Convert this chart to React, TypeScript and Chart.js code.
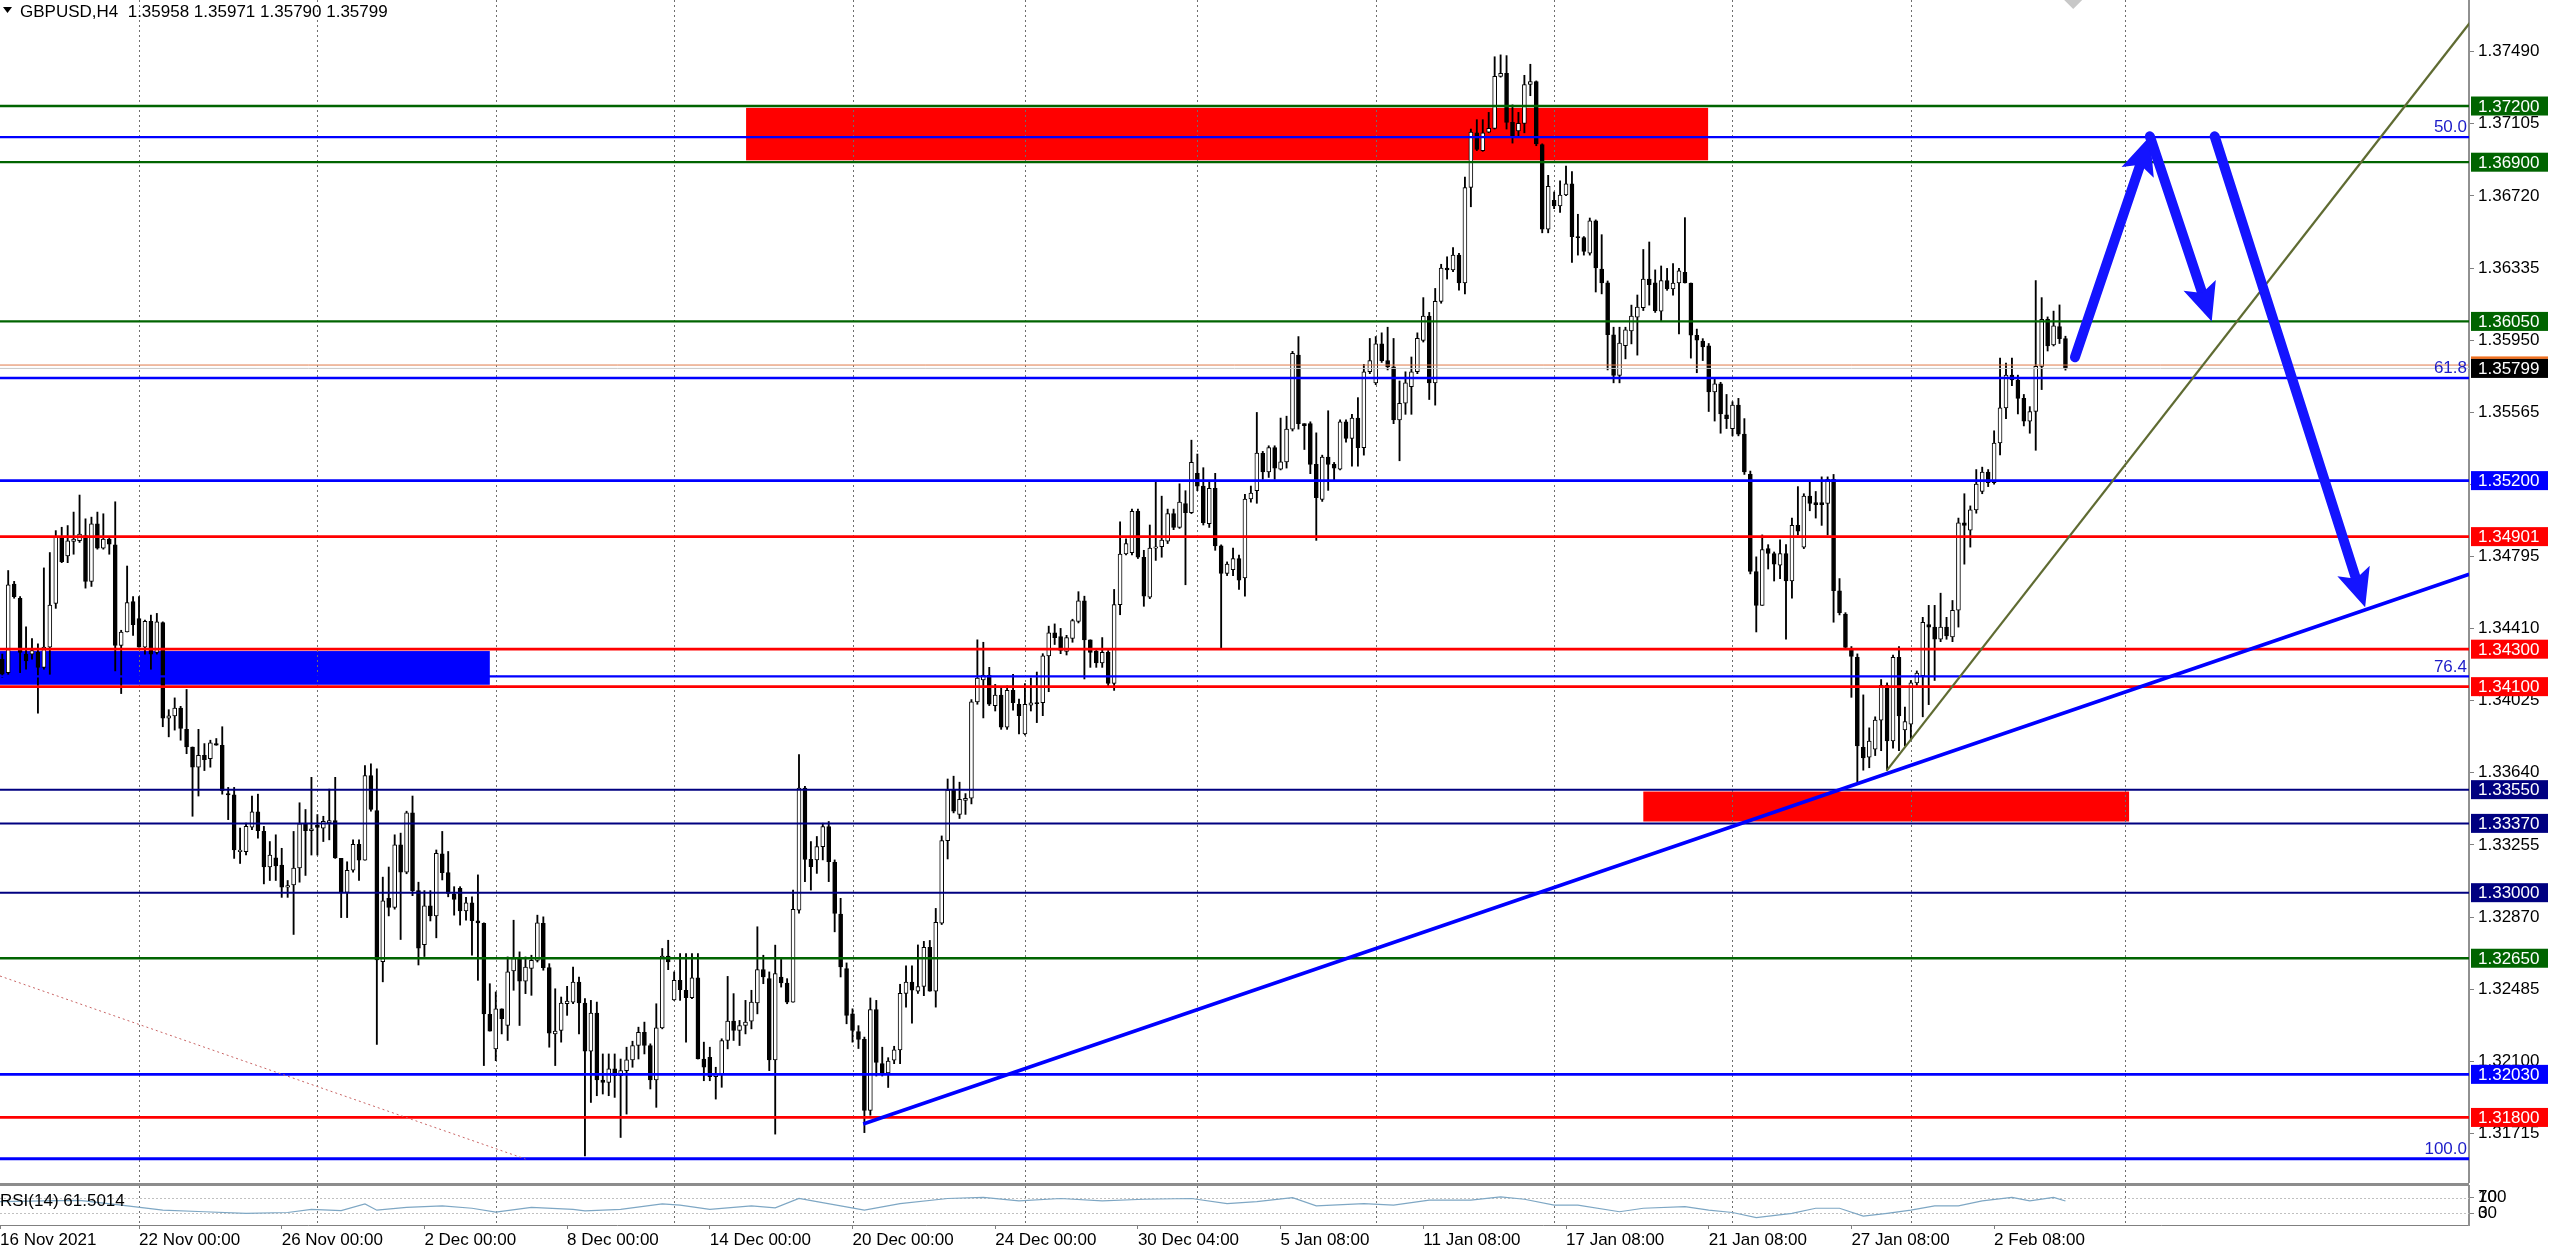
import React, { useEffect, useRef } from 'react';
import { Chart, registerables } from 'chart.js';

Chart.register(...registerables);

// ---------------- data ----------------
const symbolName = 'GBPUSD';
const timeframe = 'H4';
const firstBar = 1; // bar index of the first visible candle

const opens = [
  1.34247,1.34175,1.34648,1.34572,1.34274,1.34274,1.34283,1.34202,1.34311,1.34545,
  1.34897,1.34798,1.34875,1.34879,1.34906,1.34662,1.34969,1.34839,1.34888,1.34857,
  1.34320,1.34392,1.34554,1.34464,1.34311,1.34449,1.34283,1.34442,1.33932,1.33944,
  1.33986,1.33872,1.33778,1.33670,1.33733,1.33715,1.33796,1.33787,1.33529,1.33522,
  1.33219,1.33219,1.33350,1.33432,1.33327,1.33137,1.33186,1.33147,1.33029,1.33042,
  1.33132,1.33367,1.33331,1.33360,1.33345,1.33372,1.33385,1.33183,1.33002,1.33120,
  1.33258,1.33174,1.33625,1.33439,1.32632,1.32970,1.32921,1.33255,1.33110,1.33426,
  1.33011,1.32722,1.32930,1.32876,1.33207,1.33107,1.32993,1.33023,1.32903,1.32946,
  1.32850,1.32836,1.32350,1.32166,1.32380,1.32291,1.32582,1.32648,1.32528,1.32595,
  1.32639,1.32836,1.32600,1.32246,1.32264,1.32407,1.32416,1.32523,1.32411,1.32154,
  1.32357,1.32000,1.31987,1.32059,1.32023,1.32050,1.32107,1.32184,1.32255,1.32184,
  1.32000,1.32278,1.32661,1.32428,1.32532,1.32479,1.32439,1.32546,1.32112,1.32121,
  1.32018,1.32032,1.32211,1.32314,1.32264,1.32291,1.32314,1.32411,1.32589,1.32541,
  1.32107,1.32550,1.32518,1.32416,1.32907,1.33559,1.33178,1.33175,1.33246,1.33353,
  1.33162,1.32886,1.32595,1.32353,1.32259,1.32217,1.31837,1.32376,1.32087,1.32038,
  1.32106,1.32161,1.32462,1.32523,1.32474,1.32499,1.32708,1.32474,1.32837,1.33278,
  1.33548,1.33418,1.33492,1.33504,1.34019,1.34136,1.34161,1.33999,1.34055,1.33884,
  1.34080,1.34006,1.33847,1.34001,1.34014,1.34014,1.34264,1.34387,1.34367,1.34288,
  1.34357,1.34448,1.34558,1.34350,1.34288,1.34227,1.34283,1.34117,1.34538,1.34808,
  1.34815,1.35036,1.34791,1.34578,1.34840,1.34847,1.34877,1.35024,1.34950,1.35078,
  1.35029,1.35239,1.35171,1.34970,1.35159,1.34852,1.34705,1.34725,1.34784,1.34681,
  1.35102,1.35146,1.35346,1.35247,1.35376,1.35261,1.35300,1.35475,1.35870,1.35504,
  1.35504,1.35287,1.35099,1.35326,1.35287,1.35261,1.35514,1.35425,1.35534,1.35376,
  1.35781,1.35722,1.35930,1.35841,1.35807,1.35524,1.35613,1.35702,1.35781,1.35949,
  1.36078,1.35722,1.36157,1.36335,1.36325,1.36404,1.36256,1.36765,1.37057,1.36962,
  1.37061,1.37081,1.37358,1.37374,1.37113,1.37067,1.37107,1.37315,1.37330,1.36994,
  1.36543,1.36697,1.36666,1.36725,1.36784,1.36503,1.36497,1.36414,1.36587,1.36329,
  1.36256,1.35979,1.35761,1.35920,1.35999,1.36072,1.36123,1.36276,1.36256,1.36105,
  1.36268,1.36224,1.36255,1.36312,1.36255,1.35976,1.35945,1.35919,1.35673,1.35717,
  1.35551,1.35478,1.35603,1.35448,1.35233,1.34715,1.34534,1.34837,1.34811,1.34749,
  1.34811,1.34664,1.34961,1.34845,1.35117,1.35083,1.35083,1.35078,1.35207,1.34612,
  1.34487,1.34301,1.34257,1.33776,1.33724,1.33766,1.33921,1.34107,1.33810,1.34257,
  1.33869,1.33900,1.34120,1.34159,1.34431,1.34418,1.34353,1.34418,1.34366,1.34508,
  1.34974,1.34935,1.35044,1.35142,1.35246,1.35189,1.35401,1.35588,1.35763,1.35737,
  1.35639,1.35518,1.35569,1.35810,1.36061,1.35924,1.36022,1.35958,
];

const highs = [
  1.34274,1.34720,1.34662,1.34581,1.34419,1.34356,1.34329,1.34734,1.34816,1.34933,
  1.34951,1.34960,1.35032,1.35123,1.34996,1.35005,1.35032,1.35023,1.34897,1.35087,
  1.34401,1.34744,1.34581,1.34581,1.34455,1.34482,1.34491,1.34446,1.33977,1.34040,
  1.33995,1.34085,1.33778,1.33872,1.33796,1.33814,1.33823,1.33886,1.33562,1.33562,
  1.33345,1.33372,1.33516,1.33526,1.33354,1.33273,1.33309,1.33237,1.33065,1.33327,
  1.33480,1.33444,1.33616,1.33417,1.33408,1.33553,1.33616,1.33183,1.33165,1.33282,
  1.33282,1.33679,1.33688,1.33661,1.33083,1.33137,1.33309,1.33318,1.33435,1.33516,
  1.33056,1.33011,1.33011,1.33228,1.33327,1.33220,1.33032,1.33032,1.32975,1.32978,
  1.33095,1.32839,1.32514,1.32470,1.32380,1.32657,1.32853,1.32684,1.32657,1.32666,
  1.32880,1.32871,1.32621,1.32487,1.32443,1.32500,1.32603,1.32550,1.32434,1.32425,
  1.32416,1.32139,1.32139,1.32139,1.32112,1.32175,1.32207,1.32282,1.32309,1.32193,
  1.32407,1.32702,1.32746,1.32577,1.32675,1.32675,1.32675,1.32675,1.32202,1.32175,
  1.32068,1.32220,1.32553,1.32461,1.32318,1.32425,1.32479,1.32818,1.32666,1.32577,
  1.32720,1.32648,1.32541,1.33014,1.33737,1.33568,1.33273,1.33300,1.33371,1.33380,
  1.33175,1.32970,1.32625,1.32380,1.32290,1.32229,1.32438,1.32425,1.32175,1.32119,
  1.32180,1.32511,1.32609,1.32609,1.32721,1.32740,1.32745,1.32916,1.33303,1.33607,
  1.33622,1.33590,1.33529,1.34031,1.34350,1.34337,1.34203,1.34112,1.34092,1.34104,
  1.34166,1.34033,1.34117,1.34146,1.34178,1.34276,1.34423,1.34435,1.34411,1.34374,
  1.34460,1.34607,1.34583,1.34350,1.34301,1.34362,1.34293,1.34619,1.34980,1.34889,
  1.35048,1.35048,1.34828,1.34963,1.35195,1.35117,1.35048,1.35048,1.35183,1.35146,
  1.35416,1.35342,1.35269,1.35195,1.35239,1.34857,1.34766,1.34840,1.34803,1.35127,
  1.35171,1.35564,1.35356,1.35386,1.35386,1.35534,1.35544,1.35890,1.35969,1.35504,
  1.35514,1.35455,1.35336,1.35573,1.35297,1.35524,1.35524,1.35554,1.35643,1.35821,
  1.35959,1.35969,1.35989,1.36019,1.35959,1.35732,1.35781,1.35860,1.35989,1.36177,
  1.36098,1.36226,1.36355,1.36395,1.36444,1.36414,1.36820,1.37077,1.37127,1.37127,
  1.37166,1.37463,1.37473,1.37469,1.37206,1.37166,1.37364,1.37423,1.37334,1.36998,
  1.36830,1.36741,1.36800,1.36879,1.36850,1.36622,1.36503,1.36602,1.36592,1.36513,
  1.36266,1.36019,1.36019,1.36019,1.36137,1.36191,1.36434,1.36474,1.36325,1.36346,
  1.36333,1.36359,1.36333,1.36604,1.36255,1.36009,1.35958,1.35932,1.35751,1.35725,
  1.35660,1.35621,1.35639,1.35531,1.35251,1.34793,1.34910,1.34858,1.34819,1.34884,
  1.34858,1.35000,1.35168,1.35130,1.35194,1.35142,1.35220,1.35220,1.35233,1.34677,
  1.34495,1.34314,1.34275,1.34056,1.33880,1.33939,1.34138,1.34120,1.34268,1.34314,
  1.33991,1.34133,1.34184,1.34470,1.34534,1.34534,1.34599,1.34470,1.34560,1.35000,
  1.35130,1.35065,1.35259,1.35272,1.35259,1.35466,1.35854,1.35828,1.35854,1.35763,
  1.35660,1.35595,1.36268,1.36177,1.36074,1.36105,1.36138,1.35971,
];

const lows = [
  1.34148,1.34166,1.34572,1.34175,1.34193,1.34247,1.33959,1.34193,1.34166,1.34518,
  1.34762,1.34762,1.34807,1.34870,1.34626,1.34635,1.34834,1.34834,1.34807,1.34184,
  1.34063,1.34392,1.34374,1.34311,1.34274,1.34193,1.34274,1.33886,1.33832,1.33868,
  1.33814,1.33742,1.33408,1.33516,1.33652,1.33670,1.33787,1.33526,1.33390,1.33183,
  1.33156,1.33201,1.33336,1.33291,1.33047,1.33065,1.33065,1.32975,1.32975,1.32777,
  1.33056,1.33092,1.33201,1.33201,1.33273,1.33282,1.33183,1.32867,1.32867,1.33110,
  1.33065,1.33174,1.33435,1.32190,1.32524,1.32876,1.32912,1.32750,1.33101,1.32984,
  1.32614,1.32659,1.32849,1.32759,1.33068,1.32978,1.32880,1.32827,1.32853,1.32666,
  1.32532,1.32077,1.32261,1.32103,1.32246,1.32211,1.32479,1.32291,1.32461,1.32452,
  1.32630,1.32586,1.32175,1.32077,1.32202,1.32345,1.32407,1.32246,1.31595,1.31880,
  1.31916,1.31925,1.31916,1.31907,1.31693,1.31818,1.32068,1.32112,1.32139,1.31952,
  1.31854,1.32273,1.32589,1.32425,1.32425,1.32202,1.32434,1.32112,1.31996,1.31996,
  1.31898,1.31961,1.32166,1.32211,1.32184,1.32246,1.32273,1.32353,1.32514,1.32050,
  1.31711,1.32496,1.32407,1.32416,1.32890,1.33059,1.33014,1.33103,1.33175,1.33059,
  1.32791,1.32550,1.32300,1.32202,1.32168,1.31719,1.31812,1.32021,1.32021,1.31960,
  1.32087,1.32087,1.32389,1.32303,1.32462,1.32450,1.32474,1.32389,1.32830,1.33180,
  1.33426,1.33396,1.33418,1.33474,1.34006,1.33933,1.33999,1.33970,1.33872,1.33872,
  1.33975,1.33847,1.33842,1.33970,1.33908,1.33945,1.34073,1.34325,1.34276,1.34269,
  1.34337,1.34440,1.34141,1.34203,1.34203,1.34203,1.34097,1.34080,1.34484,1.34803,
  1.34803,1.34784,1.34529,1.34570,1.34774,1.34791,1.34864,1.34938,1.34945,1.34644,
  1.35024,1.35146,1.34963,1.34950,1.34828,1.34301,1.34693,1.34693,1.34619,1.34583,
  1.35085,1.35079,1.35207,1.35217,1.35207,1.35257,1.35267,1.35465,1.35475,1.35366,
  1.35237,1.34881,1.35089,1.35148,1.35198,1.35257,1.35405,1.35277,1.35277,1.35336,
  1.35771,1.35712,1.35831,1.35791,1.35504,1.35306,1.35554,1.35554,1.35771,1.35940,
  1.35633,1.35603,1.36147,1.36276,1.36315,1.36217,1.36197,1.36662,1.36962,1.36958,
  1.37057,1.37077,1.37354,1.37077,1.37002,1.37038,1.37057,1.37255,1.36988,1.36523,
  1.36523,1.36652,1.36632,1.36721,1.36365,1.36404,1.36404,1.36404,1.36207,1.36197,
  1.35791,1.35722,1.35722,1.35850,1.35930,1.35870,1.36108,1.36137,1.36098,1.36053,
  1.36216,1.36190,1.35983,1.36255,1.35854,1.35776,1.35841,1.35569,1.35518,1.35453,
  1.35478,1.35439,1.35439,1.35233,1.34702,1.34392,1.34534,1.34728,1.34664,1.34677,
  1.34353,1.34573,1.34910,1.34837,1.35039,1.35000,1.34961,1.34910,1.34444,1.34483,
  1.34301,1.34043,1.33590,1.33654,1.33667,1.33732,1.33758,1.33654,1.33771,1.33758,
  1.33784,1.33823,1.34107,1.33939,1.34004,1.34133,1.34340,1.34353,1.34340,1.34418,
  1.34754,1.34845,1.35026,1.35130,1.35168,1.35181,1.35337,1.35531,1.35707,1.35556,
  1.35492,1.35453,1.35362,1.35686,1.35892,1.35919,1.35932,1.35790,
];

const closes = [
  1.34166,1.34644,1.34581,1.34283,1.34238,1.34292,1.34202,1.34311,1.34536,1.34897,
  1.34767,1.34879,1.34888,1.34915,1.34662,1.34969,1.34839,1.34888,1.34861,1.34320,
  1.34392,1.34549,1.34431,1.34311,1.34449,1.34274,1.34446,1.33932,1.33944,1.33986,
  1.33877,1.33778,1.33670,1.33733,1.33710,1.33800,1.33787,1.33544,1.33522,1.33228,
  1.33228,1.33354,1.33432,1.33331,1.33137,1.33201,1.33143,1.33029,1.33038,1.33132,
  1.33367,1.33331,1.33341,1.33349,1.33381,1.33385,1.33186,1.33002,1.33120,1.33258,
  1.33174,1.33625,1.33444,1.32641,1.32957,1.32921,1.33255,1.33110,1.33426,1.33011,
  1.32704,1.32930,1.32876,1.33210,1.33107,1.32996,1.32964,1.32903,1.32946,1.32850,
  1.32839,1.32353,1.32261,1.32380,1.32327,1.32577,1.32648,1.32528,1.32603,1.32639,
  1.32839,1.32600,1.32250,1.32261,1.32411,1.32421,1.32523,1.32411,1.32154,1.32357,
  1.32000,1.31987,1.32059,1.32023,1.32050,1.32107,1.32184,1.32255,1.32184,1.32000,
  1.32278,1.32661,1.32630,1.32532,1.32482,1.32439,1.32546,1.32112,1.32068,1.32018,
  1.32032,1.32211,1.32314,1.32264,1.32291,1.32309,1.32416,1.32589,1.32550,1.32107,
  1.32568,1.32518,1.32416,1.32911,1.33559,1.33178,1.33139,1.33246,1.33353,1.33166,
  1.32889,1.32603,1.32345,1.32264,1.32217,1.31837,1.32376,1.32094,1.32038,1.32101,
  1.32161,1.32462,1.32523,1.32479,1.32499,1.32708,1.32474,1.32842,1.33278,1.33548,
  1.33435,1.33499,1.33504,1.34019,1.34146,1.34161,1.34006,1.34055,1.33884,1.34080,
  1.34014,1.33945,1.34006,1.34014,1.34009,1.34264,1.34387,1.34362,1.34293,1.34362,
  1.34453,1.34558,1.34350,1.34283,1.34227,1.34283,1.34117,1.34538,1.34808,1.34864,
  1.35036,1.34791,1.34583,1.34840,1.34847,1.34882,1.35024,1.34950,1.35085,1.35029,
  1.35298,1.35171,1.34975,1.35159,1.34852,1.34705,1.34754,1.34784,1.34668,1.35102,
  1.35134,1.35347,1.35247,1.35376,1.35267,1.35300,1.35475,1.35880,1.35504,1.35494,
  1.35287,1.35109,1.35326,1.35287,1.35267,1.35514,1.35425,1.35534,1.35376,1.35781,
  1.35841,1.35930,1.35841,1.35807,1.35524,1.35613,1.35722,1.35781,1.35959,1.36078,
  1.35722,1.36157,1.36335,1.36325,1.36404,1.36256,1.36765,1.37061,1.36968,1.37057,
  1.37081,1.37358,1.37374,1.37113,1.37038,1.37107,1.37315,1.37330,1.36998,1.36543,
  1.36771,1.36666,1.36725,1.36784,1.36503,1.36497,1.36424,1.36587,1.36335,1.36256,
  1.35979,1.35761,1.35934,1.36005,1.36078,1.36127,1.36276,1.36246,1.36108,1.36268,
  1.36224,1.36255,1.36320,1.36255,1.35976,1.35950,1.35914,1.35673,1.35717,1.35556,
  1.35531,1.35603,1.35448,1.35246,1.34715,1.34534,1.34832,1.34811,1.34754,1.34811,
  1.34664,1.34961,1.34930,1.35117,1.35078,1.35072,1.35072,1.35207,1.34612,1.34495,
  1.34309,1.34262,1.33784,1.33719,1.33810,1.33921,1.34107,1.33810,1.34257,1.33944,
  1.33913,1.34120,1.34172,1.34444,1.34418,1.34353,1.34418,1.34371,1.34508,1.34974,
  1.34961,1.35044,1.35181,1.35246,1.35189,1.35401,1.35588,1.35763,1.35737,1.35639,
  1.35518,1.35569,1.35810,1.36061,1.35919,1.36027,1.35958,1.35799,
];

// time axis
const timeTickBars = [0.62, 24, 48, 72, 96, 120, 144, 168, 192, 216, 240, 264, 288, 312, 336];
const timeTickLabels = [
  '16 Nov 2021', '22 Nov 00:00', '26 Nov 00:00', '2 Dec 00:00', '8 Dec 00:00',
  '14 Dec 00:00', '20 Dec 00:00', '24 Dec 00:00', '30 Dec 04:00', '5 Jan 08:00',
  '11 Jan 08:00', '17 Jan 08:00', '21 Jan 08:00', '27 Jan 08:00', '2 Feb 08:00',
];
const weekStartBars = [24, 54, 84, 114, 144, 173, 202, 232, 262, 292, 322, 358];

// price axis
const priceTicks = [
  1.31715, 1.321, 1.32485, 1.3287, 1.33255, 1.3364, 1.34025, 1.3441,
  1.34795, 1.3518, 1.35565, 1.3595, 1.36335, 1.3672, 1.37105, 1.3749,
];

// horizontal levels
const greenLevels = [1.372, 1.369, 1.3605, 1.3265];
const redLevels = [1.34901, 1.343, 1.341, 1.318];
const blueLevels = [1.352, 1.3203];
const navyLevels = [1.3355, 1.3337, 1.33];
const fibLabels = ['50.0', '61.8', '76.4', '100.0'];
const fibLevels = [1.37034, 1.35748, 1.34155, 1.3158];
const askPrice = 1.35817;

// rectangles
const zoneKinds = ['blue', 'red', 'red'];
const zoneStartBars = [-10, 126.1, 277];
const zoneEndBars = [83, 287.9, 358.7];
const zoneLows = [1.3411, 1.3691, 1.3338];
const zoneHighs = [1.3429, 1.3719, 1.3354];

// trend lines
const blueTrendBars = [145.8, 415.9];
const blueTrendPrices = [1.31765, 1.347];
const oliveTrendBars = [317.9, 416.4];
const oliveTrendPrices = [1.3365, 1.3766];
const dottedTrendBars = [0.62, 89];
const dottedTrendPrices = [1.32555, 1.31578];

// arrows
const arrowStartBars = [349.6, 362.2, 373.1];
const arrowStartPrices = [1.35859, 1.37038, 1.37038];
const arrowEndBars = [362.2, 372.6, 398.4];
const arrowEndPrices = [1.37038, 1.3605, 1.34524];
const chartShiftBar = 349.3;

// RSI(14)
const rsiBars = [
  0.62, 8, 14, 21, 28, 35, 42, 49, 53, 58, 62, 64, 69, 75, 80, 84, 90, 97, 99, 105,
  112, 115, 120, 127, 131, 135, 138, 146, 152, 160, 166, 172, 179, 186, 193, 201, 207, 212, 218, 222,
  230, 235, 241, 248, 253, 257, 262, 266, 273, 277, 284, 288, 292, 296, 302, 306, 310, 314, 318, 322,
  326, 330, 334, 339, 342, 346, 348,
];
const rsiValues = [
  60, 62, 63, 51, 38, 34, 30, 32, 40, 37, 54, 38, 45, 49, 43, 33, 45, 40, 36, 40,
  54, 51, 40, 49, 44, 68, 60, 38, 55, 68, 71, 62, 68, 62, 66, 68, 55, 60, 70, 49,
  55, 51, 64, 64, 72, 66, 51, 51, 34, 43, 47, 38, 32, 19, 30, 43, 43, 23, 30, 38,
  49, 49, 62, 71, 62, 71, 61.5014,
];
const rsiLevels = [70, 30];
const rsiScaleLabels = ['100', '0'];

// axis ranges
const barMin = 0.62;
const barMax = 415.87;
const priceMin = 1.3145;
const priceMax = 1.37766;

// ---------------- styles ----------------
const FONT = '"Liberation Sans", Arial, sans-serif';
const AXIS_W = 91;
const kindColor: any = { green: '#006400', red: '#ff0000', blue: '#0000ff', navy: '#000080' };
const kindWidth: any = { green: 2.3, red: 2.7, blue: 2.8, navy: 2 };
const zoneColor: any = { blue: '#0000ff', red: '#ff0000' };
const FIB_COLOR = '#0000ff';
const FIB_TEXT = '#1c1cc8';
const ARROW_COLOR = '#1414ff';

function allLevels() {
  const out: any[] = [];
  greenLevels.forEach((p) => out.push({ p, k: 'green' }));
  redLevels.forEach((p) => out.push({ p, k: 'red' }));
  blueLevels.forEach((p) => out.push({ p, k: 'blue' }));
  navyLevels.forEach((p) => out.push({ p, k: 'navy' }));
  return out;
}

function drawWeekGrid(ctx: any, xs: any, top: number, bottom: number) {
  ctx.save();
  ctx.strokeStyle = '#6e6e6e';
  ctx.lineWidth = 1;
  ctx.setLineDash([2, 3]);
  weekStartBars.forEach((b) => {
    const px = Math.round(xs.getPixelForValue(b)) + 0.5;
    ctx.beginPath();
    ctx.moveTo(px, top);
    ctx.lineTo(px, bottom);
    ctx.stroke();
  });
  ctx.restore();
}

function drawArrow(ctx: any, x1: number, y1: number, x2: number, y2: number) {
  const dx = x2 - x1;
  const dy = y2 - y1;
  const len = Math.hypot(dx, dy);
  const ux = dx / len;
  const uy = dy / len;
  const headLen = 38;
  const halfW = 17;
  const bx = x2 - ux * headLen;
  const by = y2 - uy * headLen;
  ctx.strokeStyle = ARROW_COLOR;
  ctx.fillStyle = ARROW_COLOR;
  ctx.lineWidth = 10;
  ctx.lineCap = 'round';
  ctx.beginPath();
  ctx.moveTo(x1, y1);
  ctx.lineTo(bx + ux * 6, by + uy * 6);
  ctx.stroke();
  ctx.beginPath();
  ctx.moveTo(x2, y2);
  ctx.lineTo(bx - uy * halfW, by + ux * halfW);
  ctx.lineTo(bx + ux * 8, by + uy * 8);
  ctx.lineTo(bx + uy * halfW, by - ux * halfW);
  ctx.closePath();
  ctx.fill();
}

const mainPlugin = {
  id: 'mt4Main',
  beforeDatasetsDraw(chart: any) {
    const { ctx, chartArea: a, scales } = chart;
    const xs = scales.x;
    const ys = scales.y;
    ctx.save();
    ctx.beginPath();
    ctx.rect(a.left, a.top, a.right - a.left, a.bottom - a.top);
    ctx.clip();
    zoneKinds.forEach((k, i) => {
      const x1 = xs.getPixelForValue(zoneStartBars[i]);
      const x2 = xs.getPixelForValue(zoneEndBars[i]);
      const y1 = ys.getPixelForValue(zoneHighs[i]);
      const y2 = ys.getPixelForValue(zoneLows[i]);
      ctx.fillStyle = zoneColor[k];
      ctx.fillRect(x1, y1, x2 - x1, y2 - y1);
    });
    ctx.restore();
    drawWeekGrid(ctx, xs, a.top, a.bottom);
  },
  afterDatasetsDraw(chart: any) {
    const { ctx, chartArea: a, scales } = chart;
    const xs = scales.x;
    const ys = scales.y;
    ctx.save();
    ctx.beginPath();
    ctx.rect(a.left, a.top, a.right - a.left, a.bottom - a.top);
    ctx.clip();
    const hline = (price: number, color: string, w: number) => {
      const y = ys.getPixelForValue(price);
      ctx.strokeStyle = color;
      ctx.lineWidth = w;
      ctx.beginPath();
      ctx.moveTo(a.left, y);
      ctx.lineTo(a.right, y);
      ctx.stroke();
    };
    // bid / ask
    hline(askPrice, '#e07a4a', 1);
    hline(closes[closes.length - 1], '#c8c8c8', 1);
    // levels
    allLevels().forEach((l) => hline(l.p, kindColor[l.k], kindWidth[l.k]));
    // fibonacci levels
    fibLevels.forEach((p, i) => hline(p, FIB_COLOR, i === fibLevels.length - 1 ? 3 : 2.3));
    ctx.font = `17px ${FONT}`;
    ctx.fillStyle = FIB_TEXT;
    ctx.textAlign = 'right';
    ctx.textBaseline = 'bottom';
    fibLevels.forEach((p, i) => {
      ctx.fillText(fibLabels[i], a.right - 2, ys.getPixelForValue(p) - 1);
    });
    // trend lines
    const seg = (bars: number[], prices: number[], color: string, w: number, dash: number[]) => {
      ctx.save();
      ctx.strokeStyle = color;
      ctx.lineWidth = w;
      ctx.setLineDash(dash);
      ctx.beginPath();
      ctx.moveTo(xs.getPixelForValue(bars[0]), ys.getPixelForValue(prices[0]));
      ctx.lineTo(xs.getPixelForValue(bars[1]), ys.getPixelForValue(prices[1]));
      ctx.stroke();
      ctx.restore();
    };
    seg(dottedTrendBars, dottedTrendPrices, '#c86464', 1, [2, 3]);
    seg(oliveTrendBars, oliveTrendPrices, '#5f6b32', 2.2, []);
    seg(blueTrendBars, blueTrendPrices, '#0000ff', 3.5, []);
    // arrows
    arrowStartBars.forEach((b, i) => {
      drawArrow(
        ctx,
        xs.getPixelForValue(b),
        ys.getPixelForValue(arrowStartPrices[i]),
        xs.getPixelForValue(arrowEndBars[i]),
        ys.getPixelForValue(arrowEndPrices[i]),
      );
    });
    // chart shift marker
    const sx = xs.getPixelForValue(chartShiftBar);
    ctx.fillStyle = '#c8c8c8';
    ctx.beginPath();
    ctx.moveTo(sx - 9, a.top);
    ctx.lineTo(sx + 9, a.top);
    ctx.lineTo(sx, a.top + 9);
    ctx.closePath();
    ctx.fill();
    ctx.restore();
  },
  afterDraw(chart: any) {
    const { ctx, chartArea: a, scales } = chart;
    const ys = scales.y;
    ctx.save();
    ctx.font = `17px ${FONT}`;
    ctx.textAlign = 'left';
    ctx.textBaseline = 'middle';
    const box = (price: number, bg: string) => {
      const y = ys.getPixelForValue(price);
      ctx.fillStyle = bg;
      ctx.fillRect(a.right + 2, y - 9.5, 77, 19);
      ctx.fillStyle = '#ffffff';
      ctx.fillText(price.toFixed(5), a.right + 9, y + 1);
    };
    allLevels().forEach((l) => box(l.p, kindColor[l.k]));
    // current price
    const last = closes[closes.length - 1];
    const ly = ys.getPixelForValue(last);
    ctx.fillStyle = '#f07020';
    ctx.fillRect(a.right + 2, ly - 12, 77, 2.5);
    box(last, '#000000');
    // header
    const n = opens.length - 1;
    ctx.fillStyle = '#000';
    ctx.beginPath();
    ctx.moveTo(3, 7);
    ctx.lineTo(12, 7);
    ctx.lineTo(7.5, 13);
    ctx.closePath();
    ctx.fill();
    ctx.textBaseline = 'alphabetic';
    ctx.fillText(
      `${symbolName},${timeframe}  ${opens[n].toFixed(5)} ${highs[n].toFixed(5)} ${lows[n].toFixed(5)} ${closes[n].toFixed(5)}`,
      20,
      17,
    );
    ctx.restore();
  },
};

const rsiPlugin = {
  id: 'mt4Rsi',
  beforeDatasetsDraw(chart: any) {
    const { ctx, chartArea: a, scales } = chart;
    drawWeekGrid(ctx, scales.x, a.top, a.bottom);
    ctx.save();
    ctx.strokeStyle = '#c0c0c0';
    ctx.lineWidth = 1;
    ctx.setLineDash([2, 2]);
    rsiLevels.forEach((v) => {
      const y = Math.round(scales.y.getPixelForValue(v)) + 0.5;
      ctx.beginPath();
      ctx.moveTo(a.left, y);
      ctx.lineTo(a.right, y);
      ctx.stroke();
    });
    ctx.restore();
  },
  afterDraw(chart: any) {
    const { ctx, chartArea: a, scales } = chart;
    ctx.save();
    ctx.fillStyle = '#8c8c8c';
    ctx.fillRect(0, 0, a.right, 3);
    ctx.font = `17px ${FONT}`;
    ctx.fillStyle = '#000';
    ctx.textAlign = 'left';
    ctx.textBaseline = 'alphabetic';
    ctx.fillText(`RSI(14) ${rsiValues[rsiValues.length - 1].toFixed(4)}`, 0, 23);
    // MT4 squeezes the 100 / 0 scale labels onto the 70 / 30 rows in a short window
    ctx.textBaseline = 'middle';
    ctx.fillText(rsiScaleLabels[0], a.right + 9, scales.y.getPixelForValue(rsiLevels[0]));
    ctx.fillText(rsiScaleLabels[1], a.right + 9, scales.y.getPixelForValue(rsiLevels[1]));
    ctx.restore();
  },
};

export default function App() {
  const mainRef = useRef<HTMLCanvasElement>(null);
  const rsiRef = useRef<HTMLCanvasElement>(null);

  useEffect(() => {
    document.body.style.margin = '0';
    Chart.defaults.font.family = FONT;

    const bodies = opens.map((o, i) => ({ x: i + firstBar, y: [o, closes[i]] }));
    const wicks = opens.map((_, i) => ({ x: i + firstBar, y: [lows[i], highs[i]] }));
    const bodyColors = opens.map((o, i) => (closes[i] >= o ? '#ffffff' : '#000000'));

    const main = new Chart(mainRef.current as HTMLCanvasElement, {
      type: 'bar',
      data: {
        datasets: [
          {
            label: 'body',
            data: bodies as any,
            backgroundColor: bodyColors,
            borderColor: '#000000',
            borderWidth: 1,
            borderSkipped: false,
            barThickness: 4,
            minBarLength: 1,
            grouped: false,
            order: 1,
          } as any,
          {
            label: 'wick',
            data: wicks as any,
            backgroundColor: '#000000',
            barThickness: 1.2,
            minBarLength: 1,
            grouped: false,
            order: 2,
          } as any,
        ],
      },
      options: {
        responsive: false,
        animation: false,
        devicePixelRatio: 1,
        events: [],
        layout: { padding: 0 },
        plugins: { legend: { display: false }, tooltip: { enabled: false } },
        scales: {
          x: {
            type: 'linear',
            display: false,
            min: barMin,
            max: barMax,
            offset: false,
            bounds: 'data',
          },
          y: {
            type: 'linear',
            position: 'right',
            min: priceMin,
            max: priceMax,
            bounds: 'data',
            afterBuildTicks: (s: any) => {
              s.ticks = priceTicks.map((v) => ({ value: v }));
            },
            afterFit: (s: any) => {
              s.width = AXIS_W;
              s.paddingTop = 0;
              s.paddingBottom = 0;
            },
            ticks: {
              autoSkip: false,
              padding: 4,
              color: '#000',
              font: { size: 17, family: FONT },
              callback: (v: any) => Number(v).toFixed(5),
            },
            grid: { drawOnChartArea: false, drawTicks: true, tickLength: 5, color: '#808080' },
            border: { display: true, color: '#909090', width: 2 },
          },
        },
      } as any,
      plugins: [mainPlugin],
    });

    const rsi = new Chart(rsiRef.current as HTMLCanvasElement, {
      type: 'line',
      data: {
        datasets: [
          {
            label: 'RSI',
            data: rsiBars.map((b, i) => ({ x: b, y: rsiValues[i] })),
            borderColor: '#7ea7c4',
            borderWidth: 1.2,
            pointRadius: 0,
            tension: 0,
          },
        ],
      },
      options: {
        responsive: false,
        animation: false,
        devicePixelRatio: 1,
        events: [],
        layout: { padding: { top: 3, left: 0, right: 0, bottom: 0 } },
        plugins: { legend: { display: false }, tooltip: { enabled: false } },
        scales: {
          x: {
            type: 'linear',
            position: 'bottom',
            min: barMin,
            max: barMax,
            bounds: 'data',
            afterBuildTicks: (s: any) => {
              s.ticks = timeTickBars.map((v) => ({ value: v }));
            },
            afterFit: (s: any) => {
              s.height = 24;
              s.paddingLeft = 0;
              s.paddingRight = 0;
            },
            ticks: {
              autoSkip: false,
              maxRotation: 0,
              minRotation: 0,
              align: 'start',
              padding: 1,
              color: '#000',
              font: { size: 17, family: FONT },
              callback: (_v: any, i: number) => timeTickLabels[i],
            },
            grid: { drawOnChartArea: false, drawTicks: true, tickLength: 4, color: '#808080' },
            border: { display: true, color: '#808080', width: 1 },
          },
          y: {
            type: 'linear',
            position: 'right',
            min: 0,
            max: 100,
            bounds: 'data',
            afterBuildTicks: (s: any) => {
              s.ticks = rsiLevels.map((v) => ({ value: v }));
            },
            afterFit: (s: any) => {
              s.width = AXIS_W;
              s.paddingTop = 0;
              s.paddingBottom = 0;
            },
            ticks: {
              autoSkip: false,
              padding: 4,
              color: '#000',
              font: { size: 17, family: FONT },
            },
            grid: { drawOnChartArea: false, drawTicks: true, tickLength: 5, color: '#808080' },
            border: { display: true, color: '#909090', width: 2 },
          },
        },
      } as any,
      plugins: [rsiPlugin],
    });

    return () => {
      main.destroy();
      rsi.destroy();
    };
  }, []);

  return (
    <div style={{ width: 2560, height: 1249, background: '#ffffff', overflow: 'hidden' }}>
      <canvas ref={mainRef} width={2560} height={1183} style={{ display: 'block' }} />
      <canvas ref={rsiRef} width={2560} height={66} style={{ display: 'block' }} />
    </div>
  );
}
